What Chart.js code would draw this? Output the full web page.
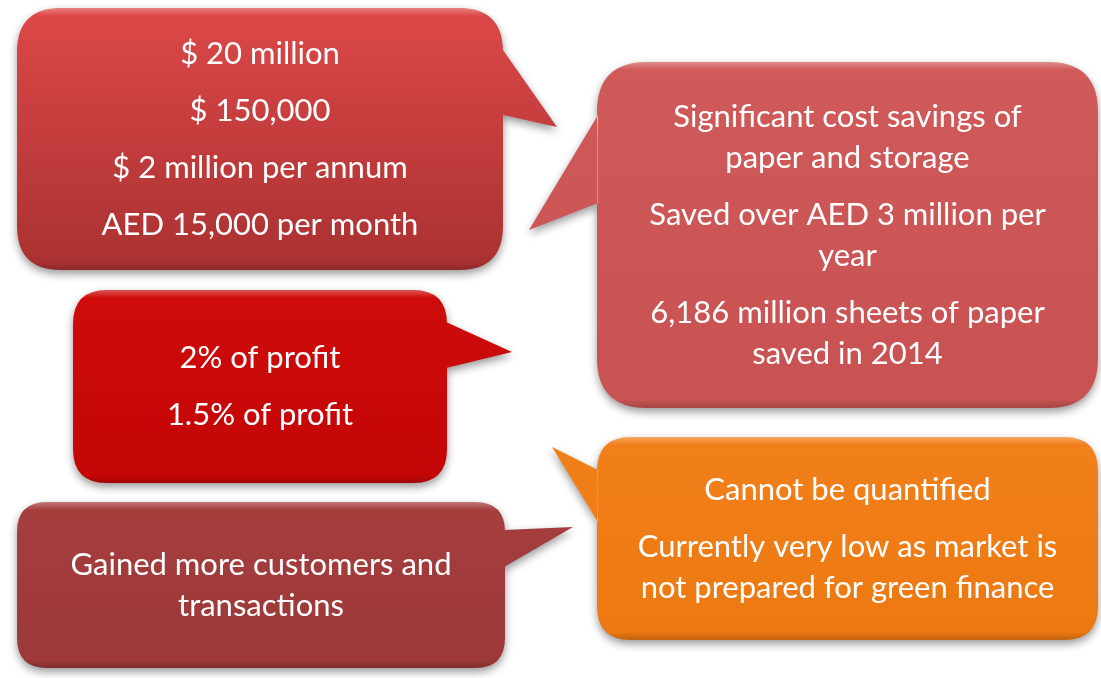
<!DOCTYPE html>
<html>
<head>
<meta charset="utf-8">
<script src="https://cdn.jsdelivr.net/npm/chart.js@4.4.1/dist/chart.umd.min.js"></script>
<style>
  html, body { margin: 0; padding: 0; background: #fff; }
  #wrap { width: 1101px; height: 678px; position: relative; }
</style>
</head>
<body>
<div id="wrap"><canvas id="chart"></canvas></div>
<script>
// ─── Data: callout texts (paragraphs → lines) ─────────────
const bubbleNames = ['Direct cost', 'Paper savings', 'Profit share', 'Customers', 'Green finance'];
const bubbleText = [
  [['$ 20 million'], ['$ 150,000'], ['$ 2 million per annum'], ['AED 15,000 per month']],
  [['Significant cost savings of', 'paper and storage'], ['Saved over AED 3 million per', 'year'], ['6,186 million sheets of paper', 'saved in 2014']],
  [['2% of profit'], ['1.5% of profit']],
  [['Gained more customers and', 'transactions']],
  [['Cannot be quantified'], ['Currently very low as market is', 'not prepared for green finance']]
];

// ─── Layout (page units on the hidden 0..1101 / 0..678 scales) ──
const boxes = [
  { l: 17,  t: 8,   r: 503,  b: 270, rad: 44, tail: [[503, 50], [557, 127], [503, 115]], top: '#dd4848', bot: '#a93131' },
  { l: 597, t: 62,  r: 1098, b: 408, rad: 50, tail: [[598, 115], [529, 230], [598, 203]], top: '#d05a5a', bot: '#c85252' },
  { l: 73,  t: 290, r: 447,  b: 483, rad: 34, tail: [[446, 322], [512, 352], [446, 368]], top: '#cf0b0b', bot: '#c40606' },
  { l: 17,  t: 502, r: 505,  b: 668, rad: 30, tail: [[504, 530], [573, 527], [504, 567]], top: '#a63e3e', bot: '#9c3838' },
  { l: 597, t: 437, r: 1098, b: 640, rad: 34, tail: [[598, 470], [552, 447], [598, 522]], top: '#f2801a', bot: '#ec7810' }
];
const FONT = '31px Lato, "Open Sans", sans-serif';
const LINE_H = 41, PARA_GAP = 16;

function roundRectPath(ctx, x0, y0, x1, y1, r) {
  ctx.moveTo(x0 + r, y0);
  ctx.lineTo(x1 - r, y0);
  ctx.quadraticCurveTo(x1, y0, x1, y0 + r);
  ctx.lineTo(x1, y1 - r);
  ctx.quadraticCurveTo(x1, y1, x1 - r, y1);
  ctx.lineTo(x0 + r, y1);
  ctx.quadraticCurveTo(x0, y1, x0, y1 - r);
  ctx.lineTo(x0, y0 + r);
  ctx.quadraticCurveTo(x0, y0, x0 + r, y0);
  ctx.closePath();
}

const calloutPlugin = {
  id: 'callouts',
  afterDatasetsDraw(chart) {
    const { ctx, scales: { x, y } } = chart;
    boxes.forEach((bx, i) => {
      const x0 = x.getPixelForValue(bx.l), x1 = x.getPixelForValue(bx.r);
      const y0 = y.getPixelForValue(bx.t), y1 = y.getPixelForValue(bx.b);
      const tail = bx.tail.map(p => [x.getPixelForValue(p[0]), y.getPixelForValue(p[1])]);
      const path = () => {
        ctx.beginPath();
        roundRectPath(ctx, x0, y0, x1, y1, bx.rad);
        ctx.moveTo(tail[0][0], tail[0][1]);
        ctx.lineTo(tail[1][0], tail[1][1]);
        ctx.lineTo(tail[2][0], tail[2][1]);
        ctx.closePath();
      };
      // body with drop shadow
      ctx.save();
      ctx.shadowColor = 'rgba(0,0,0,0.4)';
      ctx.shadowBlur = 9;
      ctx.shadowOffsetY = 4;
      const g = ctx.createLinearGradient(0, y0, 0, y1);
      g.addColorStop(0, bx.top);
      g.addColorStop(1, bx.bot);
      ctx.fillStyle = g;
      path();
      ctx.fill();
      ctx.restore();
      // bevel highlight / bottom shade
      ctx.save();
      const h = ctx.createLinearGradient(0, y0, 0, y1);
      const e = 8 / (y1 - y0);
      h.addColorStop(0, 'rgba(255,255,255,0.30)');
      h.addColorStop(e, 'rgba(255,255,255,0)');
      h.addColorStop(1 - e, 'rgba(0,0,0,0)');
      h.addColorStop(1, 'rgba(0,0,0,0.18)');
      ctx.fillStyle = h;
      path();
      ctx.fill();
      ctx.restore();

      // text, vertically centred
      const paras = bubbleText[i];
      const nLines = paras.reduce((s, p) => s + p.length, 0);
      const total = (nLines - 1) * LINE_H + (paras.length - 1) * PARA_GAP;
      let ty = (y0 + y1) / 2 - total / 2;
      const cx = (x0 + x1) / 2;
      ctx.save();
      ctx.font = FONT;
      ctx.fillStyle = '#ffffff';
      ctx.textAlign = 'center';
      ctx.textBaseline = 'middle';
      paras.forEach((p, pi) => {
        p.forEach((line, li) => {
          ctx.fillText(line, cx, ty);
          if (li < p.length - 1) ty += LINE_H;
        });
        if (pi < paras.length - 1) ty += LINE_H + PARA_GAP;
      });
      ctx.restore();
    });
  }
};

new Chart(document.getElementById('chart'), {
  type: 'scatter',
  data: {
    datasets: [{
      label: 'callouts',
      data: boxes.map(b => ({ x: (b.l + b.r) / 2, y: (b.t + b.b) / 2 })),
      pointRadius: 0
    }]
  },
  options: {
    responsive: true, maintainAspectRatio: false, animation: false,
    layout: { padding: 0 },
    plugins: { legend: { display: false }, tooltip: { enabled: false } },
    scales: {
      x: { type: 'linear', min: 0, max: 1101, display: false },
      y: { type: 'linear', min: 0, max: 678, reverse: true, display: false }
    }
  },
  plugins: [calloutPlugin]
});
</script>
</body>
</html>
